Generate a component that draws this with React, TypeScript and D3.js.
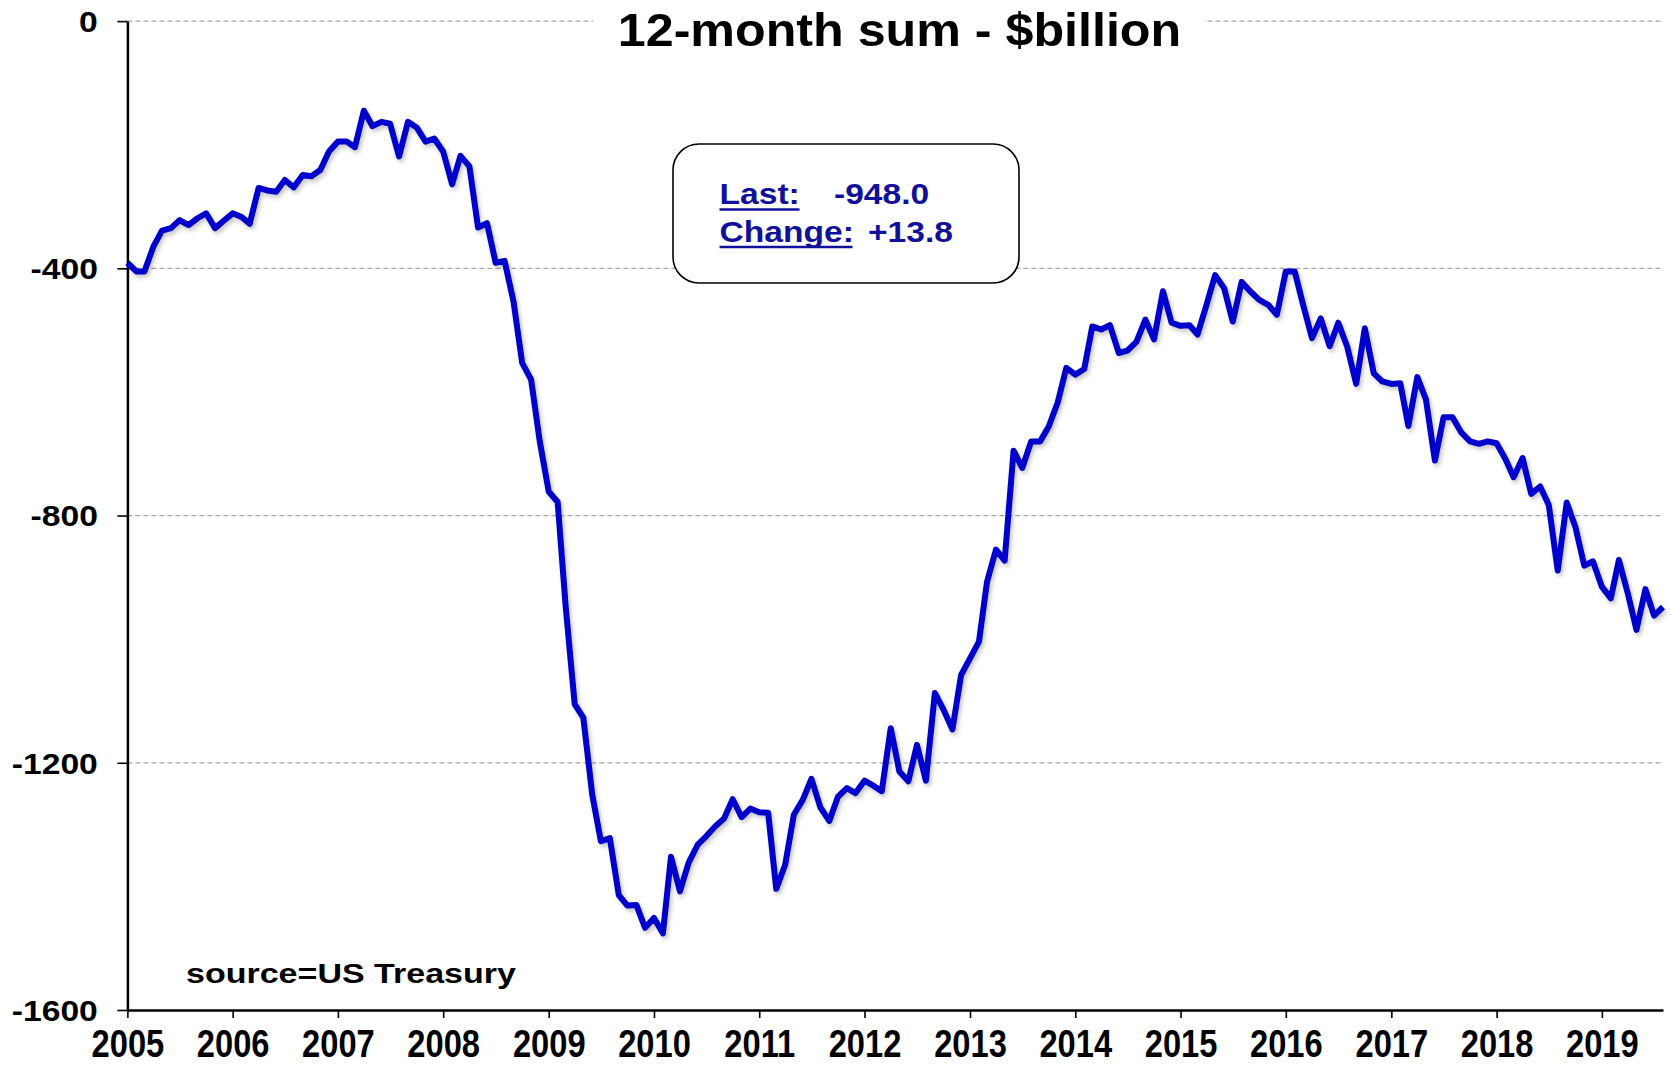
import React, { useEffect, useRef } from 'react'
import * as d3 from 'd3'

// US federal budget balance, 12-month rolling sum in $bn, monthly from Jan 2005
const firstMonth = new Date(2005, 0, 1)
const balance12m = [
  -391, -405, -405, -365, -339, -335, -322, -330, -319, -311, -335, -323,
  -311, -317, -328, -270, -274, -276, -257, -269, -249, -251, -241, -211,
  -195, -195, -204, -145, -170, -163, -166, -219, -163, -172, -195, -190,
  -211, -264, -218, -235, -334, -327, -391, -388, -454, -553, -580, -680,
  -761, -778, -948, -1105, -1127, -1252, -1327, -1322, -1414, -1431, -1430, -1467,
  -1451, -1476, -1352, -1408, -1362, -1333, -1319, -1303, -1290, -1259, -1288, -1274,
  -1280, -1281, -1404, -1365, -1284, -1260, -1226, -1272, -1294, -1255, -1241, -1249,
  -1229, -1237, -1246, -1144, -1214, -1230, -1171, -1229, -1087, -1114, -1146, -1058,
  -1031, -1004, -907, -855, -873, -695, -723, -680, -680, -656, -617, -561,
  -572, -563, -494, -499, -492, -537, -533, -519, -483, -515, -437, -488,
  -493, -492, -507, -459, -411, -432, -486, -422, -438, -451, -459, -475,
  -405, -405, -459, -513, -481, -526, -488, -527, -587, -497, -570, -583,
  -587, -586, -655, -576, -612, -711, -641, -641, -666, -680, -684, -680,
  -683, -709, -738, -707, -765, -753, -783, -889, -779, -818, -881, -874,
  -915, -934, -872, -926, -985, -919, -961.8, -948.0,
]
const yearTicks = [2005, 2006, 2007, 2008, 2009, 2010, 2011, 2012, 2013, 2014, 2015, 2016, 2017, 2018, 2019]
const valueTicks = [0, -400, -800, -1200, -1600]
const titleText = '12-month sum - $billion'
const sourceText = 'source=US Treasury'
const lastLabel = '-948.0'
const changeLabel = '+13.8'

const FONT = "'Liberation Sans', Arial, Helvetica, sans-serif"
const LINE_BLUE = '#0000cc'
const TEXT_BLUE = '#10109a'

const App = () => {
  const ref = useRef<SVGSVGElement>(null)

  useEffect(() => {
    const svg = d3.select(ref.current)
    svg.selectAll('*').remove()

    const left = 127.4, right = 1663, top = 21.1, bottom = 1010

    const data = balance12m.map((v, i) => ({ date: d3.timeMonth.offset(firstMonth, i), value: v }))

    const x = d3.scaleTime()
      .domain([firstMonth, data[data.length - 1].date])
      .range([left, right])
    const y = d3.scaleLinear()
      .domain([-1600, 0])
      .range([bottom, top])

    const defs = svg.append('defs')
    const shadow = defs.append('filter').attr('id', 'lineShadow')
      .attr('x', '-5%').attr('y', '-5%').attr('width', '110%').attr('height', '110%')
    shadow.append('feDropShadow')
      .attr('dx', 2).attr('dy', 3).attr('stdDeviation', 2)
      .attr('flood-color', '#000').attr('flood-opacity', 0.22)

    svg.append('rect').attr('width', 1671).attr('height', 1066).attr('fill', '#fff')

    // gridlines
    svg.append('g')
      .selectAll('line')
      .data(valueTicks.filter(v => v !== -1600))
      .enter().append('line')
      .attr('x1', left).attr('x2', right)
      .attr('y1', d => y(d)).attr('y2', d => y(d))
      .attr('stroke', '#a6a6a6')
      .attr('stroke-width', 1.3)
      .attr('stroke-dasharray', '5,3')

    // y axis
    const yAxis = svg.append('g')
      .attr('transform', 'translate(' + left + ',0)')
      .call(d3.axisLeft(y).tickValues(valueTicks).tickSize(10).tickSizeOuter(0).tickFormat(d => String(d)))
    yAxis.select('.domain').attr('stroke', '#000').attr('stroke-width', 2.5)
    yAxis.selectAll('.tick line').attr('stroke', '#000').attr('stroke-width', 1.6)
    yAxis.selectAll('.tick text')
      .attr('x', -25.5)
      .attr('dy', '0.36em')
      .attr('transform', 'scale(1.16,1)')
      .style('font-family', FONT)
      .style('font-weight', 'bold')
      .style('font-size', '29px')
      .attr('fill', '#000')

    // x axis
    const xAxis = svg.append('g')
      .attr('transform', 'translate(0,' + bottom + ')')
      .call(d3.axisBottom(x)
        .tickValues(yearTicks.map(yr => new Date(yr, 0, 1)))
        .tickSize(8)
        .tickSizeOuter(0)
        .tickFormat(d => d3.timeFormat('%Y')(d as Date)))
    xAxis.select('.domain').attr('stroke', '#000').attr('stroke-width', 2.5)
    xAxis.selectAll('.tick line').attr('stroke', '#000').attr('stroke-width', 1.6)
    xAxis.selectAll('.tick text')
      .attr('y', 47)
      .attr('dy', 0)
      .attr('transform', 'scale(0.86,1)')
      .style('font-family', FONT)
      .style('font-weight', 'bold')
      .style('font-size', '38px')
      .attr('fill', '#000')

    // the series
    const line = d3.line<{ date: Date, value: number }>()
      .x(d => x(d.date))
      .y(d => y(d.value))
    svg.append('path')
      .datum(data)
      .attr('d', line)
      .attr('fill', 'none')
      .attr('stroke', LINE_BLUE)
      .attr('stroke-width', 6)
      .attr('stroke-linejoin', 'round')
      .attr('filter', 'url(#lineShadow)')

    // title, masking the zero gridline behind it
    svg.append('rect')
      .attr('x', 593).attr('y', 0).attr('width', 611).attr('height', 56)
      .attr('fill', '#fff')
    svg.append('g')
      .attr('transform', 'translate(899.5,46) scale(1.08,1)')
      .append('text')
      .attr('text-anchor', 'middle')
      .style('font-family', FONT)
      .style('font-weight', 'bold')
      .style('font-size', '46.5px')
      .text(titleText)

    // last / change box
    svg.append('rect')
      .attr('x', 673).attr('y', 144).attr('width', 346).attr('height', 139)
      .attr('rx', 26).attr('ry', 26)
      .attr('fill', '#fff').attr('stroke', '#000').attr('stroke-width', 1.6)

    const boxRows = [
      { label: 'Last:', value: lastLabel, base: 204, valueX: 834, underline: 80 },
      { label: 'Change:', value: changeLabel, base: 241.5, valueX: 868, underline: 133 },
    ]
    boxRows.forEach(r => {
      svg.append('g')
        .attr('transform', 'translate(719.5,' + r.base + ') scale(1.12,1)')
        .append('text')
        .style('font-family', FONT)
        .style('font-weight', 'bold')
        .style('font-size', '30px')
        .attr('fill', TEXT_BLUE)
        .text(r.label)
      svg.append('line')
        .attr('x1', 719.5).attr('x2', 719.5 + r.underline)
        .attr('y1', r.base + 5.5).attr('y2', r.base + 5.5)
        .attr('stroke', TEXT_BLUE).attr('stroke-width', 2.6)
      svg.append('g')
        .attr('transform', 'translate(' + r.valueX + ',' + r.base + ') scale(1.12,1)')
        .append('text')
        .style('font-family', FONT)
        .style('font-weight', 'bold')
        .style('font-size', '30px')
        .attr('fill', TEXT_BLUE)
        .text(r.value)
    })

    // source note
    svg.append('g')
      .attr('transform', 'translate(186,983) scale(1.26,1)')
      .append('text')
      .style('font-family', FONT)
      .style('font-weight', 'bold')
      .style('font-size', '27px')
      .text(sourceText)
  }, [])

  return (
    <svg
      ref={ref}
      width={1671}
      height={1066}
      style={{ position: 'absolute', left: 0, top: 0, display: 'block' }}
    />
  )
}

export default App
